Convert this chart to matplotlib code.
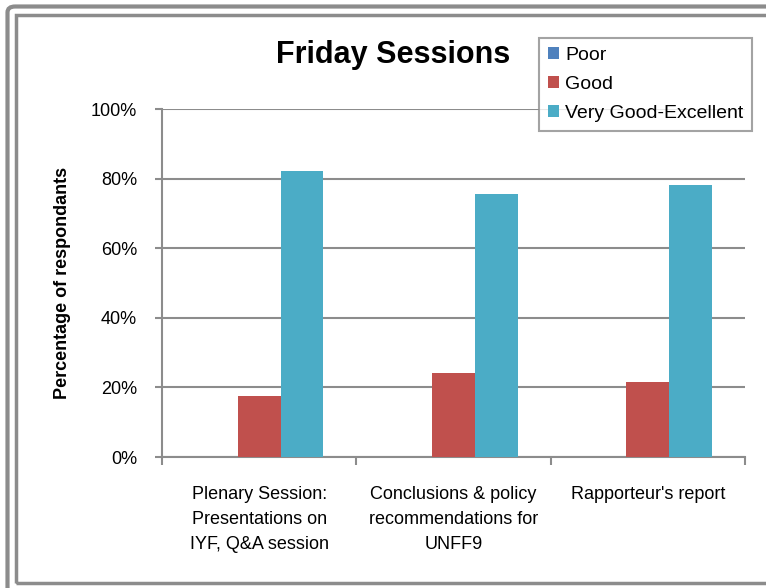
import matplotlib
matplotlib.use("Agg")
import matplotlib.pyplot as plt
import numpy as np
from matplotlib.patches import FancyBboxPatch, Rectangle

categories = ["Plenary Session:\nPresentations on\nIYF, Q&A session",
              "Conclusions & policy\nrecommendations for\nUNFF9",
              "Rapporteur's report"]
series_names = ["Poor", "Good", "Very Good-Excellent"]
poor = [0.0, 0.0, 0.0]
good = [17.5, 24.2, 21.5]
very_good = [82.3, 75.6, 78.2]
colors = ["#4F81BD", "#C0504D", "#4BACC6"]
yticks = [0, 20, 40, 60, 80, 100]

plt.rcParams['font.family'] = ['Liberation Sans', 'DejaVu Sans']

W, H = 766, 588
fig = plt.figure(figsize=(W/100, H/100), dpi=100)
ax = fig.add_axes([162/W, 1-457/H, (745-162)/W, (457-109)/H])

x = np.arange(len(categories))
w = 0.22
for i, (vals, name, c) in enumerate(zip([poor, good, very_good], series_names, colors)):
    ax.bar(x + (i-1)*w, vals, w, color=c, label=name, zorder=3)

ax.set_xlim(-0.5, 2.5)
ax.set_ylim(0, 100)
ax.set_yticks(yticks)
ax.set_yticklabels([f"{v}%" for v in yticks], fontsize=13)
ax.yaxis.grid(True, color="#8c8c8c", linewidth=1.5, zorder=0)
ax.set_xticks(x)
ax.set_xticklabels(categories, fontsize=13, linespacing=1.6)
ax.tick_params(axis='x', length=0, pad=21)
ax.set_xticks([-0.5, 0.5, 1.5, 2.5], minor=True)
ax.tick_params(axis='x', which='minor', length=6, color="#8c8c8c", width=1.5)
ax.tick_params(axis='y', length=5, color="#8c8c8c", width=1.5, pad=13)
for s in ['top', 'right']:
    ax.spines[s].set_visible(False)
for s in ['left', 'bottom']:
    ax.spines[s].set_color("#8c8c8c")
    ax.spines[s].set_linewidth(1.5)
ax.set_ylabel("Percentage of respondants", fontsize=13, fontweight='bold', labelpad=14)

fig.text(393/W, 1-55/H, "Friday Sessions", fontsize=22, fontweight='bold',
         ha='center', va='center')

leg = ax.legend(loc='upper left', bbox_to_anchor=(539/W, 1-38/H), bbox_transform=fig.transFigure,
                fontsize=14, frameon=True, fancybox=False, handlelength=0.6, handleheight=0.6,
                handletextpad=0.3, labelspacing=0.62, borderpad=0.45, borderaxespad=0)
leg.get_frame().set_edgecolor("#8c8c8c")
leg.get_frame().set_linewidth(1.5)

# outer frame (extends past right and bottom edges)
fig.patches.append(FancyBboxPatch((7.5/W, -0.05), 1.1, 1 - 6.5/H + 0.05, boxstyle="round,pad=0,rounding_size=0.01",
                                  transform=fig.transFigure, fill=False, edgecolor="#8c8c8c", linewidth=3))
# inner frame (extends past right edge)
fig.patches.append(Rectangle((15.5/W, 1-582.5/H), 1.1, (582.5-14.5)/H,
                             transform=fig.transFigure, fill=False, edgecolor="#8c8c8c", linewidth=2.5))

fig.savefig("out.png", dpi=100)
